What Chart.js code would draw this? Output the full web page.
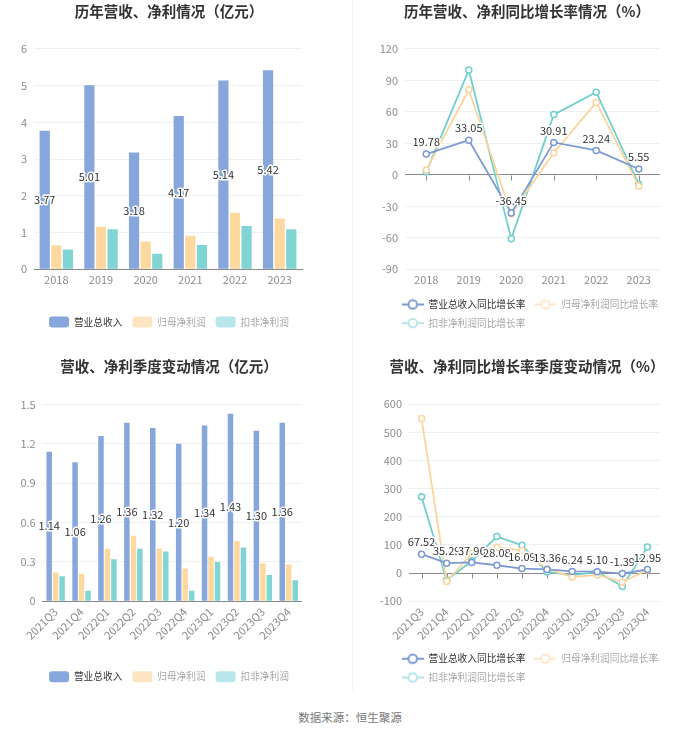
<!DOCTYPE html>
<html lang="zh">
<head>
<meta charset="utf-8">
<script src="https://cdn.jsdelivr.net/npm/chart.js@4.4.0/dist/chart.umd.min.js"></script>
<style>
  body { margin:0; background:#fff; width:700px; height:734px; position:relative; overflow:hidden;
         font-family:"Noto Sans CJK SC", "Noto Sans", sans-serif; }
  canvas { position:absolute; }
  #divider { position:absolute; left:352px; top:0; width:1px; height:690px; background:#f1f1f1; }
  #source { position:absolute; left:0; width:700px; top:709px; text-align:center; font-size:11.5px; color:#777; }
</style>
</head>
<body>
<div id="divider"></div>
<canvas id="c1" width="338" height="345" style="left:0;top:0"></canvas>
<canvas id="c2" width="346" height="345" style="left:354px;top:0"></canvas>
<canvas id="c3" width="338" height="345" style="left:0;top:355px"></canvas>
<canvas id="c4" width="346" height="345" style="left:354px;top:355px"></canvas>
<div id="source">数据来源：恒生聚源</div>

<script>
// ---- data ----
const years = ['2018', '2019', '2020', '2021', '2022', '2023'];
const yearRevenue = [3.77, 5.01, 3.18, 4.17, 5.14, 5.42];
const yearNetProfit = [0.65, 1.16, 0.76, 0.91, 1.54, 1.38];
const yearDeductedProfit = [0.54, 1.09, 0.42, 0.66, 1.18, 1.09];

const yearRevenueGrowth = [19.78, 33.05, -36.45, 30.91, 23.24, 5.55];
const yearNetProfitGrowth = [4.5, 81, -37, 21, 69, -10.8];
const yearDeductedGrowth = [2.6, 99.8, -61, 57.4, 78.8, -8.9];

const quarters = ['2021Q3', '2021Q4', '2022Q1', '2022Q2', '2022Q3', '2022Q4', '2023Q1', '2023Q2', '2023Q3', '2023Q4'];
const qRevenue = [1.14, 1.06, 1.26, 1.36, 1.32, 1.20, 1.34, 1.43, 1.30, 1.36];
const qNetProfit = [0.22, 0.21, 0.40, 0.50, 0.40, 0.25, 0.34, 0.46, 0.29, 0.28];
const qDeductedProfit = [0.19, 0.08, 0.32, 0.40, 0.38, 0.08, 0.30, 0.41, 0.20, 0.16];

const qRevenueGrowth = [67.52, 35.29, 37.96, 28.08, 16.09, 13.36, 6.24, 5.10, -1.39, 12.95];
const qNetProfitGrowth = [549, -30, 70, 92, 80, 16, -14, -6, -32, 11];
const qDeductedGrowth = [271, -24, 43, 130, 99, 4, -7, 4, -47, 93];

const barNames = ['营业总收入', '归母净利润', '扣非净利润'];
const lineNames = ['营业总收入同比增长率', '归母净利润同比增长率', '扣非净利润同比增长率'];

// ---- styles ----
const FONT = '"Noto Sans CJK SC", "Noto Sans", sans-serif';
Chart.defaults.font.family = FONT;
Chart.defaults.color = '#8c8c8c';

const barColors = ['#86a6dc', '#fdd9a0', '#80d4d4'];
const barLegendColors = ['#86a6dc', '#fde5c3', '#b9e6ea'];
const lineColors = ['#7b9ad3', '#fbd49b', '#6fcfcf'];
const lineLegendColors = ['#7b9ad3', '#fde8cb', '#b7e5e9'];
const legendText = ['#333', '#a8a8a8', '#a8a8a8'];
const gridColor = '#eef0f4';
const axisColor = '#8a8a8a';

// value labels on the first dataset
const valueLabels = {
  id: 'valueLabels',
  afterDatasetsDraw(chart, args, opts) {
    const ctx = chart.ctx;
    const meta = chart.getDatasetMeta(0);
    const data = chart.data.datasets[0].data;
    ctx.save();
    ctx.font = '11px ' + FONT;
    ctx.textAlign = 'center';
    ctx.textBaseline = 'middle';
    ctx.lineJoin = 'round';
    meta.data.forEach((el, i) => {
      const text = data[i].toFixed(2);
      const y = opts.mode === 'bar' ? (el.y + el.base) / 2 : el.y - 12;
      ctx.lineWidth = 3;
      ctx.strokeStyle = '#fff';
      ctx.strokeText(text, el.x, y);
      ctx.fillStyle = '#333';
      ctx.fillText(text, el.x, y);
    });
    ctx.restore();
  }
};

// small tick marks under the zero line
const zeroTicks = {
  id: 'zeroTicks',
  beforeDatasetsDraw(chart) {
    const {ctx, scales: {x, y}} = chart;
    const y0 = Math.round(y.getPixelForValue(0)) + 0.5;
    ctx.save();
    ctx.strokeStyle = axisColor;
    ctx.lineWidth = 1;
    x.ticks.forEach((t, i) => {
      const px = Math.round(x.getPixelForTick(i)) + 0.5;
      ctx.beginPath();
      ctx.moveTo(px, y0);
      ctx.lineTo(px, y0 + 5);
      ctx.stroke();
    });
    ctx.restore();
  }
};

// left aligned wrapping legend
const legendStart = {
  id: 'legendStart',
  beforeDraw(chart, args, opts) {
    if (opts.left != null) chart.legend.left = opts.left;
  }
};

function lineSymbol(color) {
  const c = document.createElement('canvas');
  c.width = 22; c.height = 12;
  const g = c.getContext('2d');
  g.strokeStyle = color;
  g.lineWidth = 2;
  g.beginPath(); g.moveTo(0, 6); g.lineTo(22, 6); g.stroke();
  g.beginPath(); g.arc(11, 6, 4.3, 0, Math.PI * 2);
  g.fillStyle = '#fff'; g.fill(); g.stroke();
  return c;
}

function titleOpts(text, bottom) {
  return {
    display: true, text: text, color: '#333',
    font: {size: 14.5, weight: 'bold', family: FONT},
    padding: {top: 3, bottom: bottom}
  };
}

function barLegend() {
  return {
    position: 'bottom',
    labels: {
      boxWidth: 20, boxHeight: 11, padding: 10, useBorderRadius: true, borderRadius: 3,
      font: {size: 9.7},
      generateLabels: chart => chart.data.datasets.map((ds, i) => ({
        text: ds.label, fillStyle: barLegendColors[i], strokeStyle: barLegendColors[i],
        lineWidth: 0, fontColor: legendText[i], datasetIndex: i, hidden: false, borderRadius: 3
      }))
    }
  };
}

function lineLegend() {
  return {
    position: 'bottom',
    align: 'start',
    labels: {
      usePointStyle: true, pointStyleWidth: 22, padding: 9,
      font: {size: 9.7},
      generateLabels: chart => chart.data.datasets.map((ds, i) => ({
        text: ds.label, pointStyle: lineSymbol(lineLegendColors[i]),
        fillStyle: '#fff', strokeStyle: lineLegendColors[i], lineWidth: 0,
        fontColor: legendText[i], datasetIndex: i, hidden: false
      }))
    }
  };
}

function rightSpacer(w) {
  return {
    position: 'right', display: true,
    grid: {display: false}, border: {display: false}, ticks: {display: false},
    afterFit: s => { s.width = w; }
  };
}

function barChart(id, labels, series, opts) {
  return new Chart(document.getElementById(id), {
    type: 'bar',
    data: {
      labels: labels,
      datasets: series.map((d, i) => ({
        label: barNames[i], data: d, backgroundColor: barColors[i],
        categoryPercentage: opts.cat, barPercentage: opts.bar
      }))
    },
    options: {
      responsive: false, animation: false, events: [],
      layout: {padding: {bottom: opts.padBottom}},
      scales: {
        x: {
          grid: {display: false, drawTicks: false},
          border: {display: true, color: axisColor},
          ticks: {font: {size: 11}, color: '#8c8c8c', padding: 4,
                  minRotation: opts.rot, maxRotation: opts.rot, autoSkip: false},
          afterFit: s => { s.height = opts.xHeight; }
        },
        y: {
          min: opts.min, max: opts.max,
          grid: {color: gridColor, drawTicks: false},
          border: {display: false},
          ticks: {stepSize: opts.step, font: {size: 11}, color: '#8c8c8c', padding: 7,
                  callback: v => +v.toFixed(1)},
          afterFit: s => { s.width = opts.yWidth; }
        },
        yR: rightSpacer(opts.rWidth)
      },
      plugins: {
        title: titleOpts(opts.title, opts.titleBottom),
        legend: barLegend(),
        tooltip: {enabled: false},
        valueLabels: {mode: 'bar'}
      }
    },
    plugins: [valueLabels]
  });
}

function lineChart(id, labels, series, opts) {
  return new Chart(document.getElementById(id), {
    type: 'line',
    data: {
      labels: labels,
      datasets: series.map((d, i) => ({
        label: lineNames[i], data: d, borderColor: lineColors[i], borderWidth: 1.8,
        pointBackgroundColor: '#fff', pointBorderColor: lineColors[i],
        pointRadius: 3, pointBorderWidth: 1.5, tension: 0, fill: false
      }))
    },
    options: {
      responsive: false, animation: false, events: [],
      layout: {padding: {bottom: opts.padBottom}},
      scales: {
        x: {
          offset: true,
          grid: {display: false, drawTicks: false},
          border: {display: false},
          ticks: {font: {size: 11}, color: '#8c8c8c', padding: 4,
                  minRotation: opts.rot, maxRotation: opts.rot, autoSkip: false},
          afterFit: s => { s.height = opts.xHeight; }
        },
        y: {
          min: opts.min, max: opts.max,
          grid: {color: c => c.tick.value === 0 ? axisColor : gridColor, drawTicks: false},
          border: {display: false},
          ticks: {stepSize: opts.step, font: {size: 11}, color: '#8c8c8c', padding: 7},
          afterFit: s => { s.width = opts.yWidth; }
        },
        yR: rightSpacer(opts.rWidth)
      },
      plugins: {
        title: titleOpts(opts.title, opts.titleBottom),
        legend: lineLegend(),
        tooltip: {enabled: false},
        valueLabels: {mode: 'line'},
        legendStart: {left: opts.legendLeft}
      }
    },
    plugins: [zeroTicks, valueLabels, legendStart]
  });
}

barChart('c1', years, [yearRevenue, yearNetProfit, yearDeductedProfit], {
  title: '历年营收、净利情况（亿元）', titleBottom: 28.5,
  min: 0, max: 6, step: 1, yWidth: 34, rWidth: 36, xHeight: 37.2, padBottom: 7.5,
  cat: 0.78, bar: 0.88, rot: 0
});

lineChart('c2', years, [yearRevenueGrowth, yearNetProfitGrowth, yearDeductedGrowth], {
  title: '历年营收、净利同比增长率情况（%）', titleBottom: 28.5,
  min: -90, max: 120, step: 30, yWidth: 51, rWidth: 40, xHeight: 21.3, padBottom: 7,
  rot: 0, legendLeft: 38.7
});

barChart('c3', quarters, [qRevenue, qNetProfit, qDeductedProfit], {
  title: '营收、净利季度变动情况（亿元）', titleBottom: 29.1,
  min: 0, max: 1.5, step: 0.3, yWidth: 42.7, rWidth: 36.3, xHeight: 59.9, padBottom: 7.8,
  cat: 0.75, bar: 0.85, rot: 45
});

lineChart('c4', quarters, [qRevenueGrowth, qNetProfitGrowth, qDeductedGrowth], {
  title: '营收、净利同比增长率季度变动情况（%）', titleBottom: 28.8,
  min: -100, max: 600, step: 100, yWidth: 55, rWidth: 40, xHeight: 43.6, padBottom: 7.7,
  rot: 45, legendLeft: 38.7
});
</script>
</body>
</html>
